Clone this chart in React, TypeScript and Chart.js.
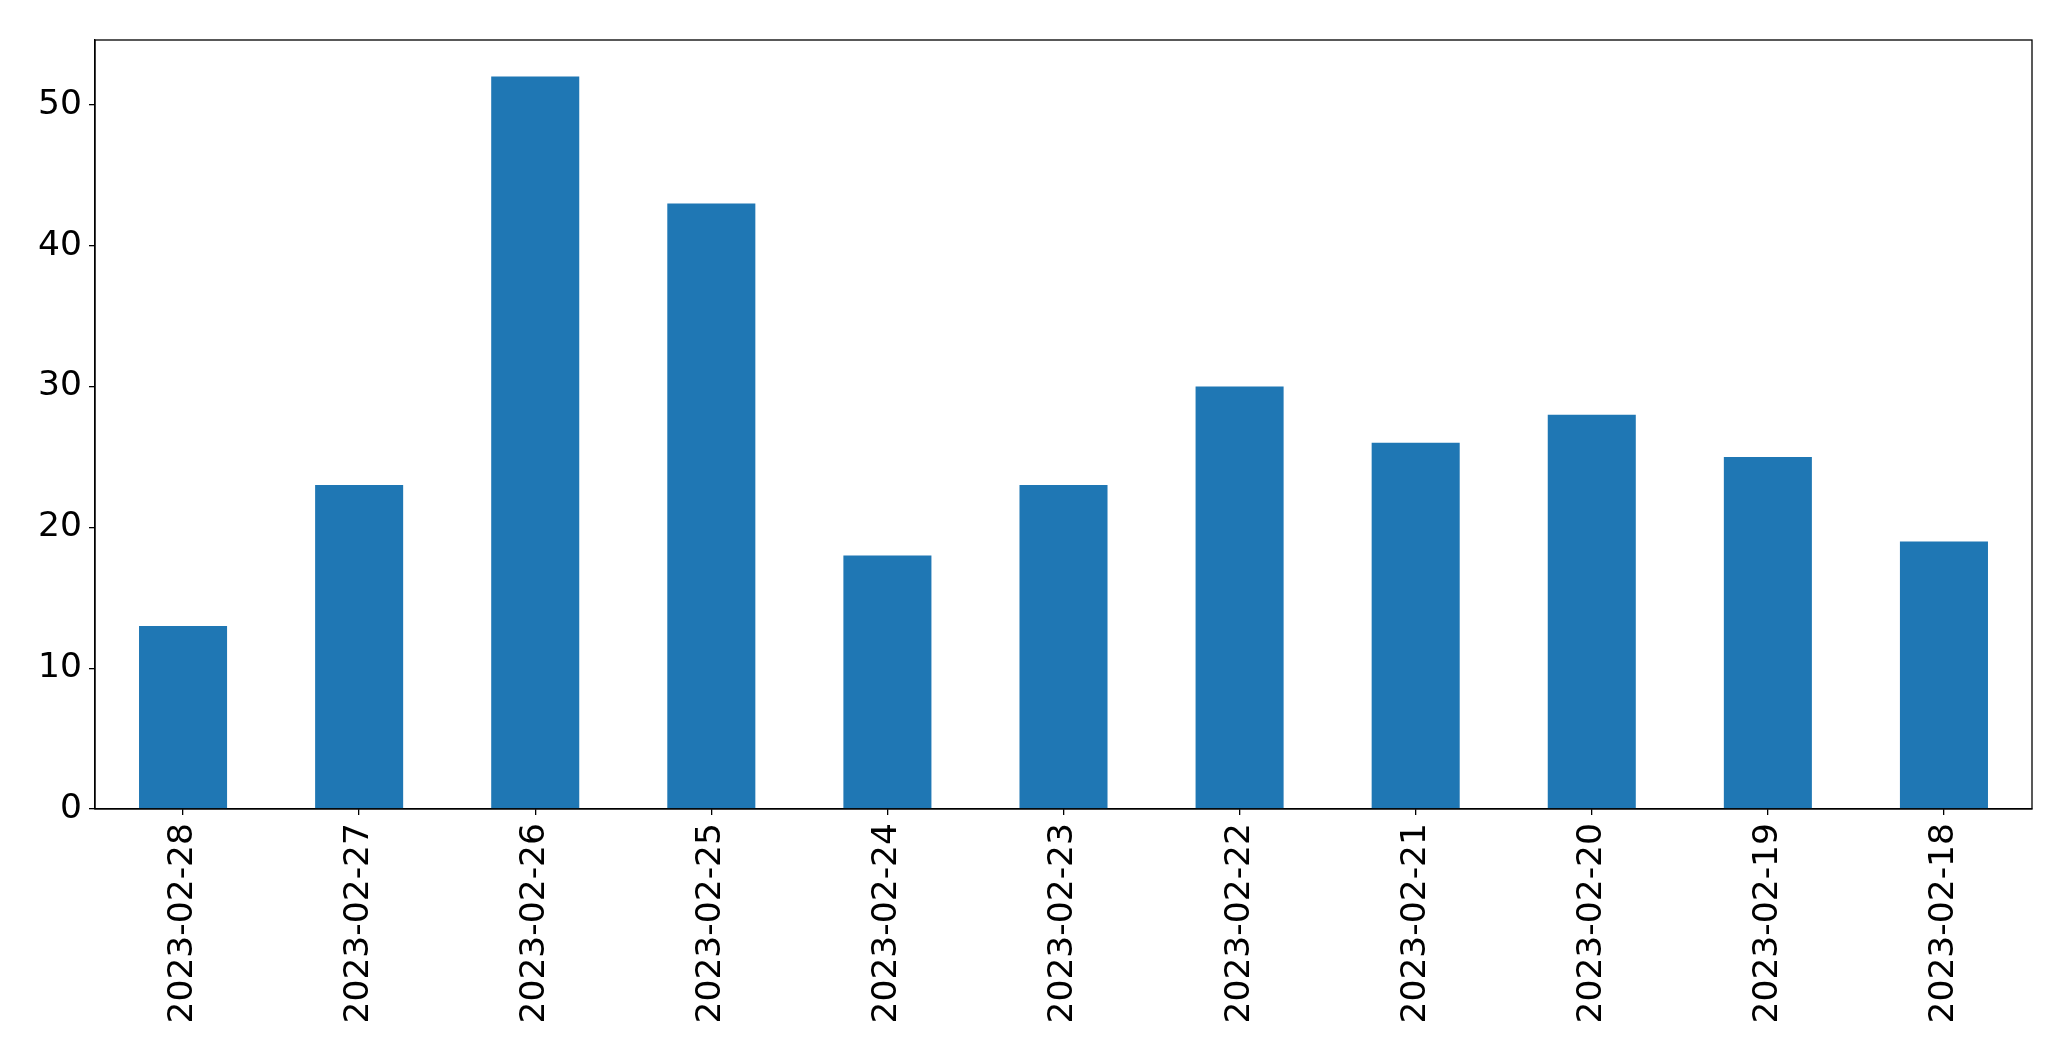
import React, { useEffect, useRef } from "react";
import { Chart, registerables } from "chart.js";

Chart.register(...registerables);

const categories = [
  "2023-02-28", "2023-02-27", "2023-02-26", "2023-02-25", "2023-02-24", "2023-02-23",
  "2023-02-22", "2023-02-21", "2023-02-20", "2023-02-19", "2023-02-18",
];
const values = [13, 23, 52, 43, 18, 23, 30, 26, 28, 25, 19];
const yTicks = [0, 10, 20, 30, 40, 50];
const yMax = 54.6;

const framePlugin = {
  id: "frame",
  afterDraw(chart: any) {
    const { ctx, chartArea } = chart;
    ctx.save();
    ctx.strokeStyle = "#000";
    ctx.lineWidth = 1.3;
    ctx.strokeRect(chartArea.left, chartArea.top, chartArea.right - chartArea.left, chartArea.bottom - chartArea.top);
    ctx.restore();
  },
};

export default function App() {
  const ref = useRef<HTMLCanvasElement | null>(null);
  useEffect(() => {
    document.body.style.margin = "0";
    const font = { family: "'DejaVu Sans', sans-serif", size: 34.5 };
    const chart = new Chart(ref.current!, {
      type: "bar",
      data: {
        labels: categories,
        datasets: [
          {
            data: values,
            backgroundColor: "#1f77b4",
            barPercentage: 0.5,
            categoryPercentage: 1,
          },
        ],
      },
      options: {
        animation: false,
        responsive: false,
        maintainAspectRatio: false,
        layout: { padding: { top: 40, right: 39, left: 0, bottom: 0 } },
        plugins: { legend: { display: false }, tooltip: { enabled: false } },
        scales: {
          x: {
            offset: true,
            grid: { offset: false, drawOnChartArea: false, drawTicks: true, tickLength: 6, color: "#000", lineWidth: 1.3 },
            border: { display: true, color: "#000", width: 1.3 },
            ticks: { color: "#000", font, minRotation: 90, maxRotation: 90, autoSkip: false, padding: 8 },
            afterFit: (s: any) => { s.height = 252; },
          },
          y: {
            min: 0,
            max: yMax,
            afterBuildTicks: (s: any) => { s.ticks = yTicks.map((v) => ({ value: v })); },
            grid: { drawOnChartArea: false, drawTicks: true, tickLength: 6, color: "#000", lineWidth: 1.3 },
            border: { display: true, color: "#000", width: 1.3 },
            ticks: { color: "#000", font, padding: 7 },
            afterFit: (s: any) => { s.width = 95; },
          },
        },
      },
      plugins: [framePlugin],
    });
    return () => chart.destroy();
  }, []);
  return (
    <div style={{ position: "fixed", left: 0, top: 0, width: 2071, height: 1061, background: "#fff" }}>
      <canvas ref={ref} width={2071} height={1061} style={{ width: 2071, height: 1061 }} />
    </div>
  );
}
